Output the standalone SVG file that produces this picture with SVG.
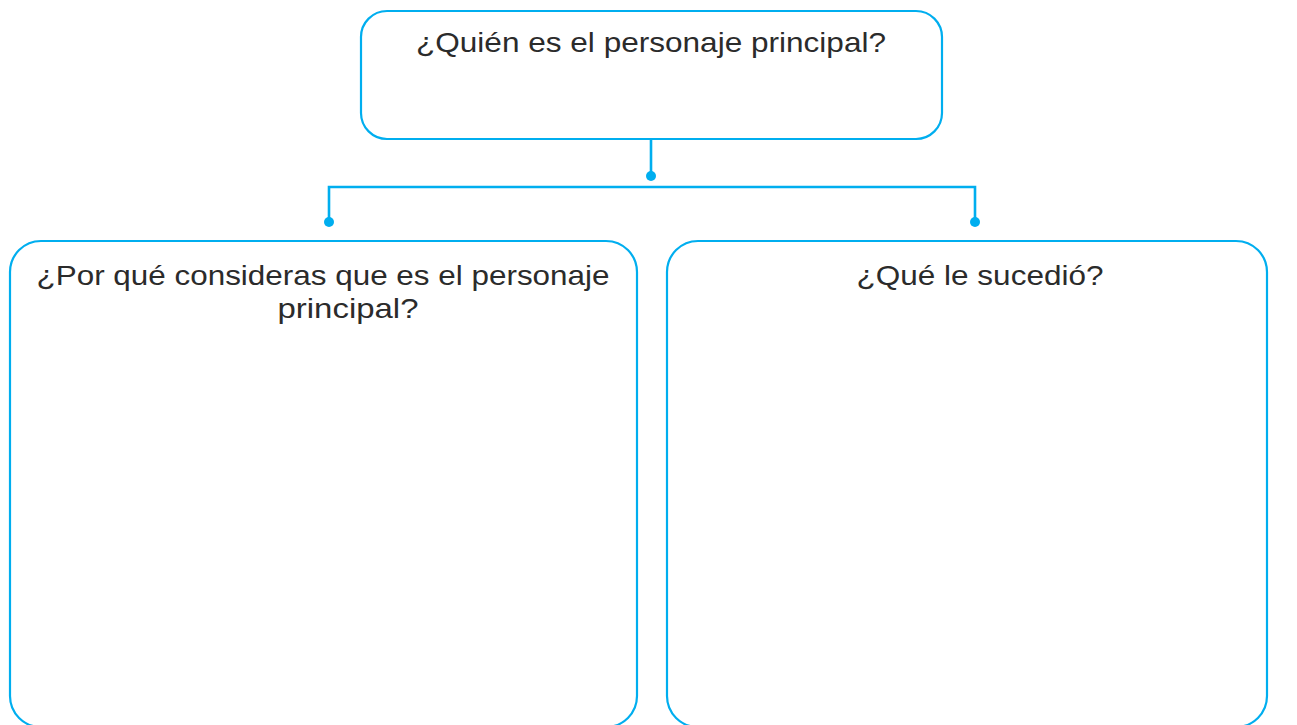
<svg xmlns="http://www.w3.org/2000/svg" width="1297" height="725" viewBox="0 0 1297 725">
<style>
.box{fill:#fff;stroke:#00AEEF;stroke-width:2.2}
.con{fill:none;stroke:#00AEEF;stroke-width:2.6}
.dot{fill:#00AEEF}
.t{font-family:"Liberation Sans",Arial,sans-serif;font-size:28px;fill:#2b2b2b;text-anchor:middle}
</style>
<rect width="1297" height="725" fill="#fff"/>
<g id="connectors">
<path class="con" d="M651 139V176M329 222V187H975V222"/>
<circle class="dot" cx="651" cy="176" r="5"/>
<circle class="dot" cx="329" cy="222" r="5"/>
<circle class="dot" cx="975" cy="222" r="5"/>
</g>
<g id="top">
<rect class="box" x="361" y="11" width="581" height="128" rx="26"/>
<text class="t" x="651" y="52" textLength="470" lengthAdjust="spacingAndGlyphs">¿Quién es el personaje principal?</text>
</g>
<g id="left">
<rect class="box" x="10" y="241" width="627" height="486" rx="31"/>
<text class="t" x="323" y="285" textLength="573" lengthAdjust="spacingAndGlyphs">¿Por qué consideras que es el personaje</text>
<text class="t" x="348" y="318" textLength="141" lengthAdjust="spacingAndGlyphs">principal?</text>
</g>
<g id="right">
<rect class="box" x="667" y="241" width="600" height="486" rx="31"/>
<text class="t" x="980" y="285" textLength="247" lengthAdjust="spacingAndGlyphs">¿Qué le sucedió?</text>
</g>
</svg>
